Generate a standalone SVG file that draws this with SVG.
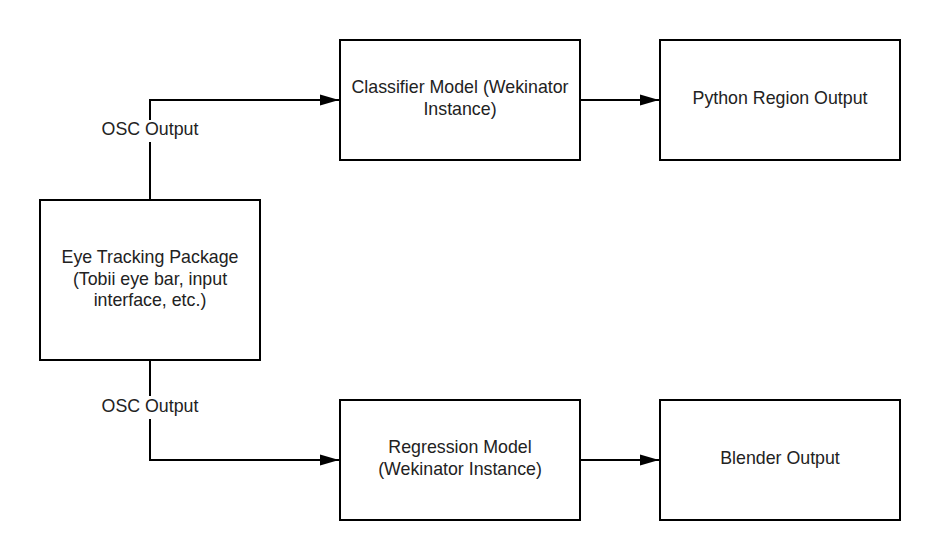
<svg xmlns="http://www.w3.org/2000/svg" width="940" height="560" viewBox="0 0 940 560">
<style>
.box{fill:#fff;stroke:#000;stroke-width:2}
.t{font-family:"Liberation Sans",Arial,sans-serif;font-size:17.8px;fill:#222;text-anchor:middle}
.c{fill:none;stroke:#000;stroke-width:2}
.lbg{fill:#fff}
</style>
<defs>
<marker id="arr" markerUnits="userSpaceOnUse" markerWidth="20" markerHeight="12" refX="19" refY="6" orient="auto">
<path d="M0,0.5 L19,6 L0,11.5 Z" fill="#000"/>
</marker>
</defs>
<rect width="940" height="560" fill="#fff"/>
<g id="connectors">
<path class="c" d="M150,200 V100 H339" marker-end="url(#arr)"/>
<path class="c" d="M150,360 V460 H339" marker-end="url(#arr)"/>
<path class="c" d="M580,100 H659" marker-end="url(#arr)"/>
<path class="c" d="M580,460 H659" marker-end="url(#arr)"/>
<rect class="lbg" x="100" y="120" width="100" height="22"/>
<text class="t" x="150" y="135">OSC Output</text>
<rect class="lbg" x="100" y="396" width="100" height="23"/>
<text class="t" x="150" y="412">OSC Output</text>
</g>
<g id="eye">
<rect class="box" x="40" y="200" width="220" height="160"/>
<text class="t" x="150" y="263">Eye Tracking Package</text>
<text class="t" x="150" y="284.5">(Tobii eye bar, input</text>
<text class="t" x="150" y="306">interface, etc.)</text>
</g>
<g id="classifier">
<rect class="box" x="340" y="40" width="240" height="120"/>
<text class="t" x="460" y="93">Classifier Model (Wekinator</text>
<text class="t" x="460" y="115">Instance)</text>
</g>
<g id="python">
<rect class="box" x="660" y="40" width="240" height="120"/>
<text class="t" x="780" y="104">Python Region Output</text>
</g>
<g id="regression">
<rect class="box" x="340" y="400" width="240" height="120"/>
<text class="t" x="460" y="453">Regression Model</text>
<text class="t" x="460" y="475">(Wekinator Instance)</text>
</g>
<g id="blender">
<rect class="box" x="660" y="400" width="240" height="120"/>
<text class="t" x="780" y="464">Blender Output</text>
</g>
</svg>
